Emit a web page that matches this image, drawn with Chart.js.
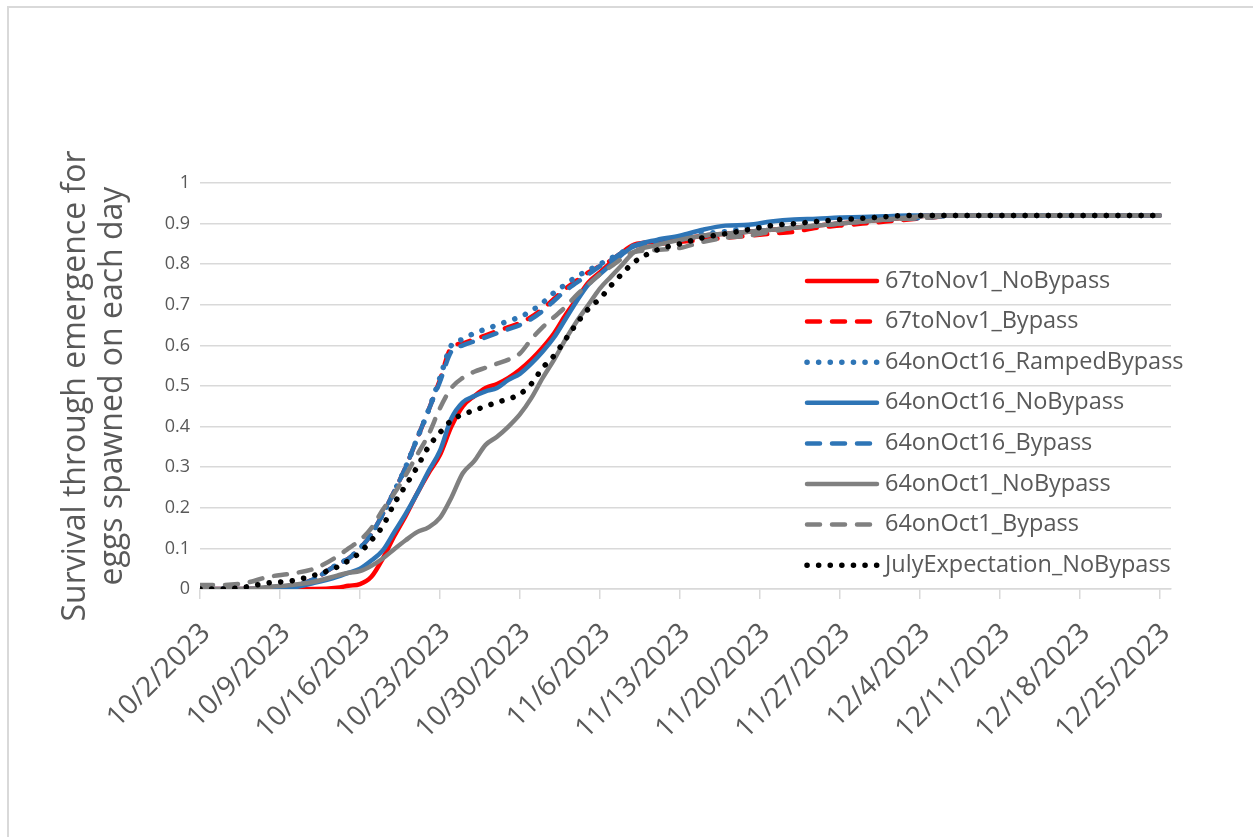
<!DOCTYPE html>
<html>
<head>
<meta charset="utf-8">
<script src="https://cdn.jsdelivr.net/npm/chart.js@4.4.0/dist/chart.umd.min.js"></script>
<style>
  html, body { margin: 0; padding: 0; background: #fff; overflow: hidden; }
  #frame { position: absolute; left: 7px; top: 6px; width: 1300px; height: 900px; border: 2px solid #d9d9d9; }
  #wrap { position: absolute; left: 0; top: 0; width: 1253px; height: 837px; }
</style>
</head>
<body>
<div id="frame"></div>
<div id="wrap"><canvas id="chart"></canvas></div>
<script>
// Dias desde el 10/2/2023
const days = [0, 2, 4, 6, 8, 10, 12, 13, 14, 15, 16, 17, 18, 19, 20, 21, 22, 23, 24, 25,
  26, 27, 28, 29, 30, 31, 32, 33, 34, 35, 36, 37, 38, 40, 42, 44, 46, 48, 50, 52,
  54, 56, 58, 60, 62, 64, 66, 70, 84];

const tickLabels = ['10/2/2023', '10/9/2023', '10/16/2023', '10/23/2023', '10/30/2023',
  '11/6/2023', '11/13/2023', '11/20/2023', '11/27/2023', '12/4/2023', '12/11/2023',
  '12/18/2023', '12/25/2023'];

const seriesNames = ['67toNov1_NoBypass', '67toNov1_Bypass', '64onOct16_RampedBypass',
  '64onOct16_NoBypass', '64onOct16_Bypass', '64onOct1_NoBypass', '64onOct1_Bypass',
  'JulyExpectation_NoBypass'];

const red67NoBypass = [0, 0, 0, 0, 0, 0, 0.003, 0.008, 0.012, 0.03, 0.075, 0.13, 0.18, 0.235, 0.285, 0.33,
  0.40, 0.45, 0.475, 0.495, 0.505, 0.52, 0.54, 0.565, 0.595, 0.63, 0.675, 0.715, 0.755, 0.78,
  0.805, 0.83, 0.848, 0.855, 0.86, 0.87, 0.875, 0.88, 0.885, 0.89, 0.895, 0.90, 0.905, 0.91,
  0.915, 0.92, 0.92, 0.92, 0.92];

const red67Bypass = [0, 0, 0, 0, 0.005, 0.025, 0.06, 0.075, 0.10, 0.135, 0.185, 0.24, 0.30, 0.37, 0.44, 0.515,
  0.595, 0.605, 0.615, 0.625, 0.635, 0.645, 0.655, 0.67, 0.69, 0.715, 0.74, 0.76, 0.78, 0.795,
  0.81, 0.83, 0.845, 0.85, 0.855, 0.86, 0.865, 0.87, 0.875, 0.88, 0.89, 0.895, 0.90, 0.905,
  0.91, 0.915, 0.92, 0.92, 0.92];

const blue64RampedBypass = [0, 0, 0, 0, 0.005, 0.025, 0.06, 0.075, 0.10, 0.135, 0.185, 0.24, 0.30, 0.37, 0.44, 0.52,
  0.60, 0.615, 0.63, 0.64, 0.65, 0.66, 0.67, 0.685, 0.705, 0.73, 0.75, 0.77, 0.785, 0.80,
  0.815, 0.83, 0.845, 0.855, 0.865, 0.875, 0.88, 0.89, 0.895, 0.90, 0.905, 0.91, 0.912, 0.915,
  0.918, 0.92, 0.92, 0.92, 0.92];

const blue64NoBypass = [0, 0, 0, 0, 0.003, 0.015, 0.03, 0.04, 0.05, 0.07, 0.095, 0.14, 0.185, 0.235, 0.29, 0.34,
  0.42, 0.46, 0.475, 0.487, 0.495, 0.515, 0.53, 0.555, 0.585, 0.62, 0.665, 0.71, 0.75, 0.775,
  0.80, 0.825, 0.845, 0.86, 0.87, 0.885, 0.895, 0.897, 0.905, 0.91, 0.912, 0.915, 0.916, 0.918,
  0.92, 0.92, 0.92, 0.92, 0.92];

const blue64Bypass = [0, 0, 0, 0, 0.005, 0.025, 0.06, 0.075, 0.10, 0.135, 0.185, 0.24, 0.30, 0.37, 0.44, 0.51,
  0.585, 0.60, 0.61, 0.62, 0.63, 0.64, 0.65, 0.665, 0.685, 0.71, 0.735, 0.755, 0.775, 0.795,
  0.81, 0.83, 0.845, 0.85, 0.86, 0.87, 0.875, 0.88, 0.885, 0.89, 0.895, 0.90, 0.905, 0.91,
  0.912, 0.915, 0.92, 0.92, 0.92];

const gray64Oct1NoBypass = [0, 0, 0, 0.005, 0.01, 0.018, 0.033, 0.04, 0.044, 0.057, 0.075, 0.098, 0.12, 0.14, 0.152, 0.175,
  0.225, 0.285, 0.315, 0.355, 0.375, 0.40, 0.43, 0.47, 0.52, 0.565, 0.615, 0.66, 0.70, 0.74,
  0.77, 0.80, 0.83, 0.847, 0.86, 0.87, 0.875, 0.88, 0.885, 0.89, 0.895, 0.90, 0.905, 0.91,
  0.915, 0.92, 0.92, 0.92, 0.92];

const gray64Oct1Bypass = [0.01, 0.01, 0.015, 0.03, 0.038, 0.05, 0.08, 0.10, 0.12, 0.15, 0.195, 0.235, 0.28, 0.33, 0.38, 0.445,
  0.495, 0.52, 0.535, 0.545, 0.555, 0.565, 0.58, 0.615, 0.645, 0.67, 0.695, 0.725, 0.75, 0.775,
  0.795, 0.815, 0.83, 0.835, 0.84, 0.855, 0.865, 0.87, 0.88, 0.89, 0.895, 0.90, 0.905, 0.91,
  0.912, 0.915, 0.92, 0.92, 0.92];

const julyExpectation = [0, 0, 0.005, 0.015, 0.02, 0.034, 0.054, 0.07, 0.09, 0.12, 0.155, 0.21, 0.255, 0.30, 0.35, 0.385,
  0.415, 0.43, 0.44, 0.45, 0.46, 0.468, 0.48, 0.505, 0.545, 0.575, 0.615, 0.655, 0.69, 0.715,
  0.748, 0.778, 0.805, 0.835, 0.85, 0.865, 0.875, 0.885, 0.895, 0.90, 0.905, 0.91, 0.913, 0.917,
  0.92, 0.92, 0.92, 0.92, 0.92];

const seriesValues = [red67NoBypass, red67Bypass, blue64RampedBypass, blue64NoBypass,
  blue64Bypass, gray64Oct1NoBypass, gray64Oct1Bypass, julyExpectation];

// Estilos de cada serie (color, guiones)
const RED = '#ff0000', BLUE = '#2e75b6', GRAY = '#808080', BLACK = '#000000';
const DASH = [13, 12];
const DOT = [0.1, 11.5];
const styles = [
  { color: RED, dash: [] },
  { color: RED, dash: DASH },
  { color: BLUE, dash: DOT },
  { color: BLUE, dash: [] },
  { color: BLUE, dash: DASH },
  { color: GRAY, dash: [] },
  { color: GRAY, dash: DASH },
  { color: BLACK, dash: DOT }
];

const FONT = 'Open Sans';
const TEXT = '#595959';
const GRID = '#d9d9d9';

const datasets = seriesNames.map((name, i) => ({
  label: name,
  data: days.map((d, j) => ({ x: d, y: seriesValues[i][j] })),
  borderColor: styles[i].color,
  backgroundColor: styles[i].color,
  borderDash: styles[i].dash,
  borderWidth: styles[i].dash === DOT ? 5.5 : 4.5,
  borderCapStyle: 'round',
  borderJoinStyle: 'round',
  pointRadius: 0,
  cubicInterpolationMode: 'monotone',
  fill: false,
  order: seriesNames.length - i
}));

// Leyenda dibujada dentro del area del grafico
const innerLegend = {
  id: 'innerLegend',
  afterDatasetsDraw(chart) {
    const ctx = chart.ctx;
    const x0 = 807, x1 = 877, y0 = 281, step = 40.6;
    ctx.save();
    chart.data.datasets.forEach((ds, i) => {
      const y = y0 + i * step;
      ctx.strokeStyle = ds.borderColor;
      ctx.lineWidth = ds.borderWidth;
      ctx.lineCap = 'round';
      ctx.setLineDash(ds.borderDash);
      ctx.beginPath();
      ctx.moveTo(x0, y);
      ctx.lineTo(x1, y);
      ctx.stroke();
      ctx.setLineDash([]);
      ctx.fillStyle = TEXT;
      ctx.font = '23.5px "' + FONT + '"';
      ctx.textBaseline = 'middle';
      ctx.textAlign = 'left';
      ctx.fillText(ds.label, 885, y);
    });
    ctx.restore();
  }
};

new Chart(document.getElementById('chart'), {
  type: 'line',
  data: { datasets: datasets },
  options: {
    responsive: true,
    maintainAspectRatio: false,
    animation: false,
    layout: { padding: { left: 0, top: 183, right: 82, bottom: 0 } },
    plugins: {
      legend: { display: false },
      tooltip: { enabled: false }
    },
    scales: {
      x: {
        type: 'linear',
        min: 0,
        max: 85,
        afterFit: (scale) => { scale.height = 248; },
        ticks: {
          stepSize: 7,
          includeBounds: false,
          autoSkip: false,
          minRotation: 45,
          maxRotation: 45,
          padding: 18,
          labelOffset: 6,
          color: TEXT,
          font: { family: FONT, size: 28 },
          callback: (value) => tickLabels[value / 7]
        },
        grid: { drawOnChartArea: false, drawTicks: true, tickLength: 10, color: GRID, lineWidth: 1.5 },
        border: { color: GRID, width: 1.5 }
      },
      y: {
        min: 0,
        max: 1,
        afterFit: (scale) => { scale.width = 200; },
        ticks: {
          stepSize: 0.1,
          padding: 10,
          color: TEXT,
          font: { family: FONT, size: 18 },
          callback: (value) => String(Math.round(value * 10) / 10)
        },
        grid: { color: GRID, lineWidth: 1.5, drawTicks: false },
        border: { display: false },
        title: {
          display: true,
          text: ['Survival through emergence for', 'eggs spawned on each day'],
          color: TEXT,
          font: { family: FONT, size: 32, lineHeight: 1.16 },
          padding: { top: 57, bottom: 0 }
        }
      }
    }
  },
  plugins: [innerLegend]
});
</script>
</body>
</html>
